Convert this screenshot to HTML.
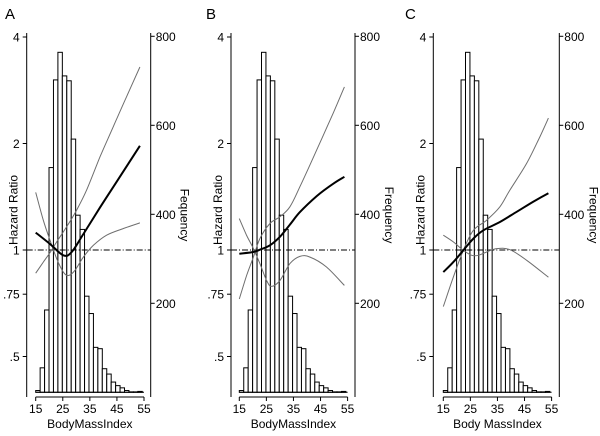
<!DOCTYPE html>
<html><head><meta charset="utf-8"><style>
body{margin:0;background:#fff}
svg text{font-family:"Liberation Sans",Arial,sans-serif;fill:#000}
</style></head><body>
<svg id="fig" width="600" height="431" viewBox="0 0 600 431"></svg>
<script>
const binStart = 15, binWidth = 1.64;
const histCounts = [4,55,185,505,702,764,711,700,569,398,366,216,177,101,98,53,41,23,15,10,4,1,1,2];
const xTicks = [15,25,35,45,55];
const hrTicks = [4,2,1,0.75,0.5];
const hrTickLabels = ["4","2","1",".75",".5"];
const freqTicks = [200,400,600,800];

const A_mainX=[15,20.3,25.2,28.3,32.6,38.8,44.9,53.5];
const A_mainY=[1.12,1.04,0.966,0.987,1.11,1.32,1.56,1.97];
const A_c1X=[15,17.8,20.3,22.75,25.2,27.1,29.5,32.6,36.3,41.2,47.4,53.5];
const A_c1Y=[1.455,1.214,1.065,0.945,0.866,0.847,0.876,0.955,1.031,1.101,1.15,1.193];
const A_c2X=[15,17.8,20.3,22.75,26.4,30.1,33.8,38.8,43.7,48.6,53.5];
const A_c2Y=[0.86,0.924,0.983,1.054,1.162,1.296,1.477,1.836,2.235,2.717,3.29];

const B_mainX=[15,20.2,22.6,26.3,30,33.7,37.4,43.6,49.7,53.8];
const B_mainY=[0.976,0.987,1.002,1.031,1.09,1.18,1.28,1.42,1.54,1.61];
const B_c1X=[15,17.7,20.2,22.6,25.1,26.9,30,33.7,37.4,41.1,47.2,53.8];
const B_c1Y=[1.227,1.10,1.009,0.915,0.82,0.789,0.82,0.915,0.959,0.955,0.895,0.794];
const B_c2X=[15,17.7,20.2,22.6,26.3,30,33.7,37.4,43.6,49.7,53.8];
const B_c2Y=[0.727,0.847,0.955,1.077,1.188,1.241,1.325,1.51,1.918,2.44,2.89];

const C_mainX=[15,18.7,22.4,26.1,29.8,35.9,42.1,48.2,53.8];
const C_mainY=[0.866,0.924,0.998,1.077,1.137,1.2,1.282,1.369,1.446];
const C_c1X=[15,18.7,22.4,25.5,27.9,31,34.7,39.6,45.8,53.8];
const C_c1Y=[1.101,1.054,0.998,0.966,0.966,0.987,1.009,1.002,0.935,0.838];
const C_c2X=[15,18.7,22.4,26.1,31,35.9,39.6,45.8,50.7,53.8];
const C_c2Y=[0.692,0.838,0.998,1.137,1.214,1.325,1.477,1.758,2.092,2.36];

const panels=[
 {id:"a",letter:"A",lx:5,x15:35.7,axL:26.7,axR:150.7,xt:"BodyMassIndex",ft:"Fequency",main:[A_mainX,A_mainY],c1:[A_c1X,A_c1Y],c2:[A_c2X,A_c2Y]},
 {id:"b",letter:"B",lx:206,x15:239.3,axL:231,axR:355,xt:"BodyMassIndex",ft:"Frequency",main:[B_mainX,B_mainY],c1:[B_c1X,B_c1Y],c2:[B_c2X,B_c2Y]},
 {id:"c",letter:"C",lx:405,x15:443.3,axL:433.3,axR:559.3,xt:"Body MassIndex",ft:"Frequency",main:[C_mainX,C_mainY],c1:[C_c1X,C_c1Y],c2:[C_c2X,C_c2Y]}
];
const NS="http://www.w3.org/2000/svg";
const svg=document.getElementById('fig');
function el(tag,attrs,parent){const e=document.createElementNS(NS,tag);for(const k in attrs)e.setAttribute(k,attrs[k]);parent.appendChild(e);return e;}
const pxPerBmi=108.3/40;
const yHR=v=>250-Math.log2(v)*106.5;
const yF=v=>392.3-v*(89/200);
const TOP=33,BOT=397;
function smoothPath(P){
  let d='M'+P[0][0].toFixed(1)+','+P[0][1].toFixed(1);
  for(let i=0;i<P.length-1;i++){
    const p0=P[Math.max(0,i-1)],p1=P[i],p2=P[i+1],p3=P[Math.min(P.length-1,i+2)];
    const c1x=p1[0]+(p2[0]-p0[0])/6,c1y=p1[1]+(p2[1]-p0[1])/6;
    const c2x=p2[0]-(p3[0]-p1[0])/6,c2y=p2[1]-(p3[1]-p1[1])/6;
    d+=` C${c1x.toFixed(1)},${c1y.toFixed(1)} ${c2x.toFixed(1)},${c2y.toFixed(1)} ${p2[0].toFixed(1)},${p2[1].toFixed(1)}`;
  }
  return d;
}
panels.forEach(p=>{
  const g=el('g',{},svg);
  
  
  const xS=v=>p.x15+(v-15)*pxPerBmi;
  const t=el('text',{x:p.lx,y:19,'font-size':15},g);t.textContent=p.letter;
  
  
  const hg=el('g',{},g);
  
  
  histCounts.forEach((c,i)=>{
    const x0=xS(binStart+i*binWidth),x1=xS(binStart+(i+1)*binWidth);
    const r=el('rect',{x:x0,y:yF(c),width:x1-x0,height:yF(0)-yF(c),fill:'#fff',stroke:'#000','stroke-width':1},hg);
    
    
  });
  el('line',{x1:xS(15),x2:xS(55),y1:yF(0),y2:yF(0),stroke:'#000','stroke-width':1},hg);
  const ref=el('line',{x1:p.axL,x2:p.axR,y1:yHR(1),y2:yHR(1),stroke:'#000','stroke-width':1,'stroke-dasharray':'6,2,1,2'},g);
  
  
  function curve(d,name,col,w){
    const pts=d[0].map((x,i)=>[xS(x),yHR(d[1][i])]);
    const pl=el('path',{d:smoothPath(pts),fill:'none',stroke:col,'stroke-width':w,'stroke-linejoin':'round'},g);
    
    
  }
  curve(p.c1,'ci-line-1','#6e6e6e',1);
  curve(p.c2,'ci-line-2','#6e6e6e',1);
  curve(p.main,'hazard-ratio-line','#000',2);
  const la=el('g',{},g);
  
  
  el('line',{x1:p.axL,x2:p.axL,y1:TOP,y2:BOT,stroke:'#000'},la);
  hrTicks.forEach((v,i)=>{
    el('line',{x1:p.axL-4,x2:p.axL,y1:yHR(v),y2:yHR(v),stroke:'#000'},la);
    const tt=el('text',{x:p.axL-7,y:yHR(v)+4.5,'font-size':12,'text-anchor':'end'},la);tt.textContent=hrTickLabels[i];
  });
  const lt=el('text',{x:0,y:0,'font-size':12,'text-anchor':'middle',transform:`translate(${p.axL-9},210) rotate(-90)`},g);
  lt.textContent='Hazard Ratio';
  
  
  const ra=el('g',{},g);
  
  
  el('line',{x1:p.axR,x2:p.axR,y1:TOP,y2:BOT,stroke:'#000'},ra);
  freqTicks.forEach(v=>{
    el('line',{x1:p.axR,x2:p.axR+4,y1:yF(v),y2:yF(v),stroke:'#000'},ra);
    const tt=el('text',{x:p.axR+5,y:yF(v)+4.5,'font-size':12},ra);tt.textContent=v;
  });
  const rt=el('text',{x:0,y:0,'font-size':12,'text-anchor':'middle',transform:`translate(${p.axR+30},215) rotate(90)`},g);
  rt.textContent=p.ft;
  
  
  const xa=el('g',{},g);
  
  
  el('line',{x1:xS(15),x2:xS(55),y1:BOT,y2:BOT,stroke:'#000'},xa);
  xTicks.forEach(v=>{
    el('line',{x1:xS(v),x2:xS(v),y1:BOT,y2:BOT+4,stroke:'#000'},xa);
    const tt=el('text',{x:xS(v),y:BOT+16,'font-size':12,'text-anchor':'middle'},xa);tt.textContent=v;
  });
  const xt=el('text',{x:xS(35),y:428,'font-size':12,'text-anchor':'middle'},g);
  xt.textContent=p.xt;
  
  
});
</script>
</body></html>
